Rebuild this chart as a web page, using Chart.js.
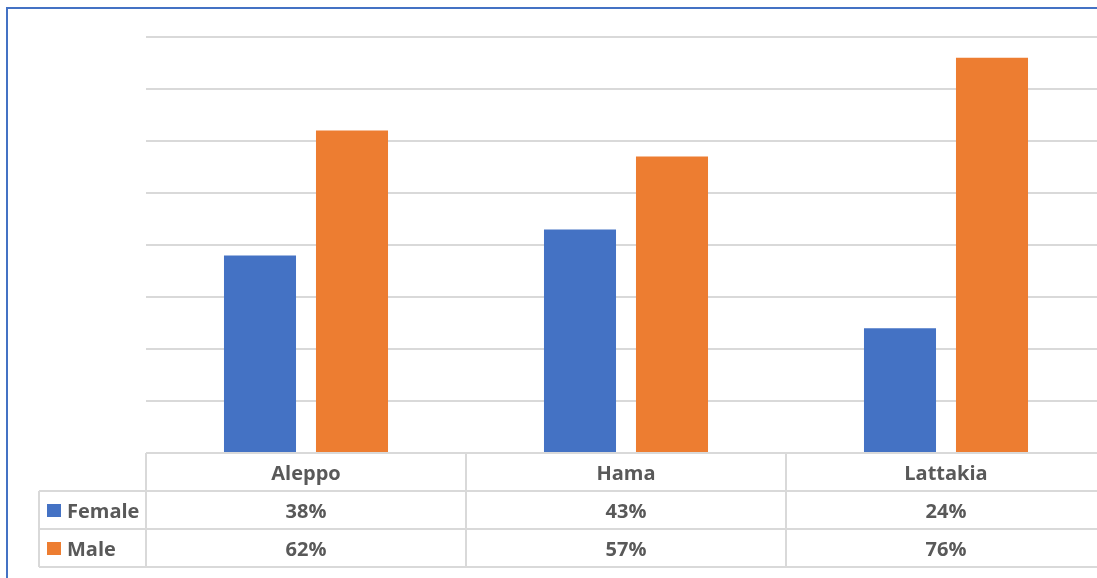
<!DOCTYPE html>
<html>
<head>
<meta charset="utf-8">
<script src="https://cdn.jsdelivr.net/npm/chart.js@4"></script>
<style>
  html, body { margin: 0; padding: 0; background: #fff; overflow: hidden; }
  #frame { position: absolute; left: 6px; top: 7px; width: 1200px; height: 700px;
           border-left: 2px solid #4472C4; border-top: 2px solid #4472C4; }
  #wrap { position: absolute; left: 0; top: 0; width: 1120px; height: 578px; }
</style>
</head>
<body>
<div id="frame"></div>
<div id="wrap"><canvas id="chart"></canvas></div>
<script>
const categories = ['Aleppo', 'Hama', 'Lattakia'];
const female = [38, 43, 24];
const male = [62, 57, 76];
const seriesNames = ['Female', 'Male'];
const seriesColors = ['#4472C4', '#ED7D31'];

const FONT = '"Open Sans", "Noto Sans", sans-serif';
const GRID = '#D9D9D9';
const TEXT = '#595959';

// data table under the plot, aligned with the category scale
const dataTable = {
  id: 'dataTable',
  afterDraw(chart) {
    const { ctx, chartArea } = chart;
    const xs = chart.scales.x;
    const colW = (chartArea.right - chartArea.left) / categories.length;
    const rowH = 38;
    const top = chartArea.bottom;
    const legendLeft = 39;

    ctx.save();
    ctx.strokeStyle = GRID;
    ctx.lineWidth = 2;
    ctx.beginPath();
    // horizontal lines
    ctx.moveTo(chartArea.left, top);
    ctx.lineTo(chartArea.right, top);
    for (let r = 1; r <= 3; r++) {
      ctx.moveTo(legendLeft, top + rowH * r);
      ctx.lineTo(chartArea.right, top + rowH * r);
    }
    // vertical lines
    for (let c = 0; c <= categories.length; c++) {
      const x = chartArea.left + colW * c;
      ctx.moveTo(x, top);
      ctx.lineTo(x, top + rowH * 3);
    }
    ctx.moveTo(legendLeft, top + rowH);
    ctx.lineTo(legendLeft, top + rowH * 3);
    ctx.stroke();

    ctx.fillStyle = TEXT;
    ctx.font = 'bold 20px ' + FONT;
    ctx.textAlign = 'center';
    ctx.textBaseline = 'middle';
    categories.forEach((c, i) => {
      const x = xs.getPixelForValue(i);
      ctx.fillText(c, x, top + rowH * 0.5 + 2);
    });
    chart.data.datasets.forEach((ds, d) => {
      const y = top + rowH * (d + 1.5) + 2;
      ds.data.forEach((v, i) => {
        ctx.fillStyle = TEXT;
        ctx.textAlign = 'center';
        ctx.fillText(v + '%', xs.getPixelForValue(i), y);
      });
      ctx.fillStyle = seriesColors[d];
      ctx.fillRect(47, y - 8, 14, 13);
      ctx.fillStyle = TEXT;
      ctx.textAlign = 'left';
      ctx.fillText(ds.label, 67, y);
    });
    ctx.restore();
  }
};

new Chart(document.getElementById('chart'), {
  type: 'bar',
  data: {
    labels: categories,
    datasets: [
      { label: seriesNames[0], data: female, backgroundColor: seriesColors[0] },
      { label: seriesNames[1], data: male, backgroundColor: seriesColors[1] }
    ]
  },
  options: {
    responsive: true,
    maintainAspectRatio: false,
    animation: false,
    datasets: {
      bar: { barPercentage: 0.783, categoryPercentage: 0.575 }
    },
    layout: { padding: { left: 146, right: 14, top: 37, bottom: 125 } },
    plugins: { legend: { display: false }, tooltip: { enabled: false } },
    scales: {
      x: { display: false },
      y: {
        min: 0,
        max: 80,
        ticks: { display: false, stepSize: 10 },
        border: { display: false },
        grid: { color: GRID, lineWidth: 2, drawTicks: false }
      }
    }
  },
  plugins: [dataTable]
});
</script>
</body>
</html>
